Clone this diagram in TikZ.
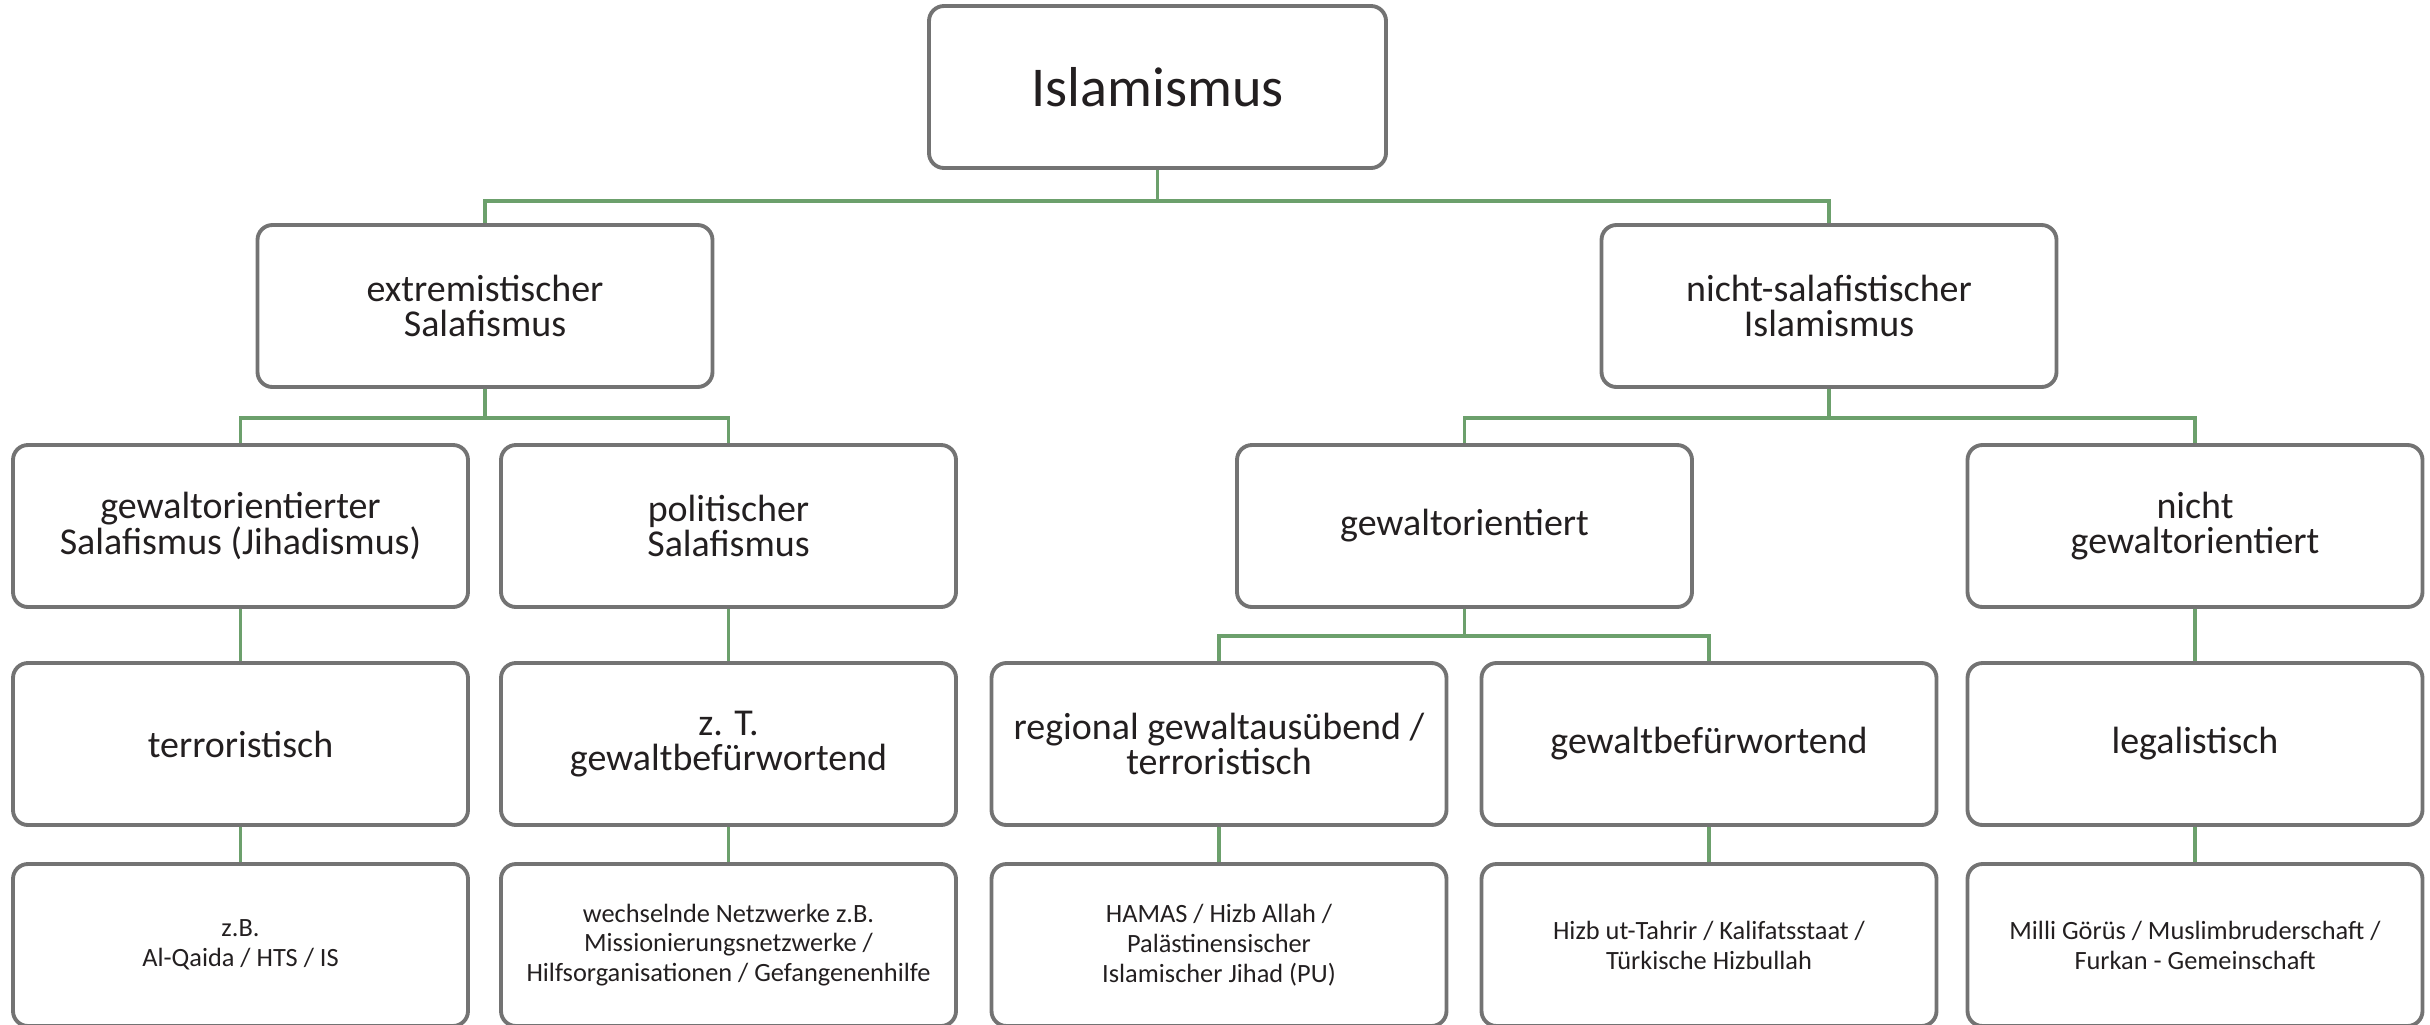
\documentclass[tikz,border=0pt]{standalone}
\usepackage{fontspec}
\setmainfont{Carlito}
\usetikzlibrary{positioning,calc}
\definecolor{linegreen}{RGB}{108,160,108}
\definecolor{boxgray}{RGB}{115,115,115}
\definecolor{textdark}{RGB}{35,31,32}

\begin{document}
\begin{tikzpicture}[x=1cm,y=-1cm,
    box/.style={draw=boxgray,line width=1.1pt,rounded corners=0.15cm,minimum width=4.55cm,minimum height=1.62cm,align=center,text=textdark,inner sep=0pt,font=\fontsize{10.8}{10}\selectfont},
    small/.style={font=\fontsize{7.5}{8.5}\selectfont},
    conn/.style={draw=linegreen,line width=1.1pt}]
        \clip (0,0) rectangle (24.3,10.24);
        % level 0
        \node [box,minimum width=4.57cm,font=\fontsize{16}{19}\selectfont] (isl) at (11.575,0.87) {Islamismus};
        % level 1
        \node [box] (extr) at (4.85,3.06) {extremistischer\\Salafismus};
        \node [box] (nsal) at (18.29,3.06) {nicht-salafistischer\\Islamismus};
        % level 2
        \node [box] (jihad) at (2.405,5.26) {gewaltorientierter\\Salafismus (Jihadismus)};
        \node [box] (polsal) at (7.285,5.26) {politischer\\Salafismus};
        \node [box] (gewo) at (14.645,5.26) {gewaltorientiert};
        \node [box] (ngewo) at (21.95,5.26) {nicht\\gewaltorientiert};
        % level 3
        \node [box] (terr) at (2.405,7.44) {terroristisch};
        \node [box] (zt) at (7.285,7.44) {z. T.\\gewaltbefürwortend};
        \node [box] (regio) at (12.19,7.44) {regional gewaltausübend /\\terroristisch};
        \node [box] (gewb) at (17.09,7.44) {gewaltbefürwortend};
        \node [box] (legal) at (21.95,7.44) {legalistisch};
        % examples
        \node [box,small] (terrbsp) at (2.405,9.45) {z.B.\\Al-Qaida / HTS / IS};
        \node [box,small] (ztbsp) at (7.285,9.45) {wechselnde Netzwerke z.B.\\Missionierungsnetzwerke /\\Hilfsorganisationen / Gefangenenhilfe};
        \node [box,small] (regiobsp) at (12.19,9.45) {HAMAS / Hizb Allah /\\Palästinensischer\\Islamischer Jihad (PU)};
        \node [box,small] (gewbbsp) at (17.09,9.45) {Hizb ut-Tahrir / Kalifatsstaat /\\Türkische Hizbullah};
        \node [box,small] (legalbsp) at (21.95,9.45) {Milli Görüs / Muslimbruderschaft /\\Furkan - Gemeinschaft};
        % connectors
        \draw [conn] (isl.south) -- ++(0,0.31) -| (extr.north);
        \draw [conn] (isl.south) -- ++(0,0.31) -| (nsal.north);
        \draw [conn] (extr.south) -- ++(0,0.29) -| (jihad.north);
        \draw [conn] (extr.south) -- ++(0,0.29) -| (polsal.north);
        \draw [conn] (nsal.south) -- ++(0,0.29) -| (gewo.north);
        \draw [conn] (nsal.south) -- ++(0,0.29) -| (ngewo.north);
        \draw [conn] (gewo.south) -- ++(0,0.27) -| (regio.north);
        \draw [conn] (gewo.south) -- ++(0,0.27) -| (gewb.north);
        \draw [conn] (jihad) -- (terr);
        \draw [conn] (polsal) -- (zt);
        \draw [conn] (ngewo) -- (legal);
        \draw [conn] (terr) -- (terrbsp);
        \draw [conn] (zt) -- (ztbsp);
        \draw [conn] (regio) -- (regiobsp);
        \draw [conn] (gewb) -- (gewbbsp);
        \draw [conn] (legal) -- (legalbsp);
\end{tikzpicture}
\end{document}
